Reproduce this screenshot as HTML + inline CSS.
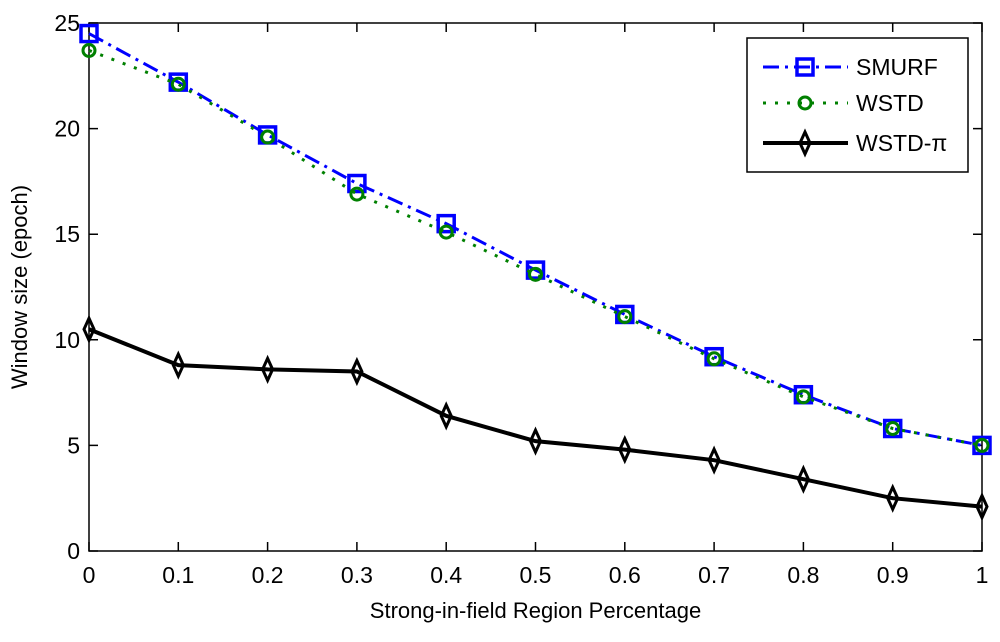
<!DOCTYPE html>
<html><head><meta charset="utf-8"><style>
body{margin:0;background:#fff}
svg text{font-family:"Liberation Sans",sans-serif;fill:#000}
</style></head><body>
<svg id="chart" width="1000" height="637" viewBox="0 0 1000 637" xmlns="http://www.w3.org/2000/svg">
<rect width="1000" height="637" fill="#fff"/>
<g id="plot"></g>
</svg>
<script>
const xValues=[0,0.1,0.2,0.3,0.4,0.5,0.6,0.7,0.8,0.9,1];
const smurf=[24.5,22.2,19.7,17.4,15.5,13.3,11.2,9.2,7.4,5.8,5.0];
const wstd=[23.7,22.1,19.6,16.9,15.1,13.1,11.1,9.1,7.3,5.8,5.0];
const wstdPi=[10.5,8.8,8.6,8.5,6.4,5.2,4.8,4.3,3.4,2.5,2.1];
const xTicks=[0,0.1,0.2,0.3,0.4,0.5,0.6,0.7,0.8,0.9,1];
const xTickLabels=["0","0.1","0.2","0.3","0.4","0.5","0.6","0.7","0.8","0.9","1"];
const yTicks=[0,5,10,15,20,25];
const yTickLabels=["0","5","10","15","20","25"];
const L=89,R=982,T=23,B=551;
const sx=v=>L+(v-0)/(1-0)*(R-L);
const sy=v=>B-(v-0)/(25-0)*(B-T);
const NS="http://www.w3.org/2000/svg";
const g=document.getElementById('plot');
function mk(tag,attrs,parent){const e=document.createElementNS(NS,tag);for(const k in attrs)e.setAttribute(k,attrs[k]);(parent||g).appendChild(e);return e;}
let ax=mk('rect',{x:L,y:T,width:R-L,height:B-T,fill:'none',stroke:'#000','stroke-width':1.5});


xTicks.forEach((t,i)=>{
  const x=sx(t);
  let tk=mk('path',{d:`M${x},${B}V${B-9}M${x},${T}V${T+9}`,stroke:'#000','stroke-width':1.5});
  
  
  let tx=mk('text',{x:x,y:B+32,'text-anchor':'middle','font-size':23});
  tx.textContent=xTickLabels[i];
  
  
});
yTicks.forEach((t,i)=>{
  const y=sy(t);
  let tk=mk('path',{d:`M${L},${y}H${L+9}M${R},${y}H${R-9}`,stroke:'#000','stroke-width':1.5});
  
  
  let tx=mk('text',{x:L-9,y:y+8,'text-anchor':'end','font-size':23});
  tx.textContent=yTickLabels[i];
  
  
});
let xt=mk('text',{x:(L+R)/2,y:618,'text-anchor':'middle','font-size':22});
xt.textContent='Strong-in-field Region Percentage';


let yt=mk('text',{x:0,y:0,'text-anchor':'middle','font-size':22,transform:`translate(27,${(T+B)/2}) rotate(-90)`});
yt.textContent='Window size (epoch)';


function pts(arr){return arr.map((v,i)=>sx(xValues[i])+','+sy(v)).join(' ');}
function square(x,y,p,c){return mk('rect',{x:x-8,y:y-8,width:16,height:16,fill:'none',stroke:c,'stroke-width':3.5},p);}
function circ(x,y,p,c){return mk('circle',{cx:x,cy:y,r:6,fill:'none',stroke:c,'stroke-width':3},p);}
function diam(x,y,p,c){return mk('path',{d:`M${x},${y-11}L${x+5},${y}L${x},${y+11}L${x-5},${y}Z`,fill:'none',stroke:c,'stroke-width':3},p);}
const series=[
 {name:'series-smurf',data:smurf,color:'#0000ff',dash:'16,6,3,6',w:3,mk:square},
 {name:'series-wstd',data:wstd,color:'#008000',dash:'3,9',w:3,mk:circ},
 {name:'series-wstd-pi',data:wstdPi,color:'#000',dash:'',w:4,mk:diam}
];
series.forEach(s=>{
  const grp=mk('g',{});
  
  
  const ln=mk('polyline',{points:pts(s.data),fill:'none',stroke:s.color,'stroke-width':s.w,'stroke-dasharray':s.dash},grp);
  
  
  s.data.forEach((v,i)=>{
    const m=s.mk(sx(xValues[i]),sy(v),grp,s.color);
    
    
  });
});
const lg=mk('g',{});


mk('rect',{x:747,y:38,width:221,height:134,fill:'#fff',stroke:'#000','stroke-width':1.5},lg);
const labels=['SMURF','WSTD','WSTD-π'];
const ly=[67,103,143];
series.forEach((s,i)=>{
  const e=mk('g',{},lg);
  
  
  mk('line',{x1:763,x2:848,y1:ly[i],y2:ly[i],stroke:s.color,'stroke-width':s.w,'stroke-dasharray':s.dash},e);
  s.mk(805,ly[i],e,s.color);
  const t=mk('text',{x:856,y:ly[i]+8,'font-size':23},e);
  t.textContent=labels[i];
});
</script>
</body></html>
